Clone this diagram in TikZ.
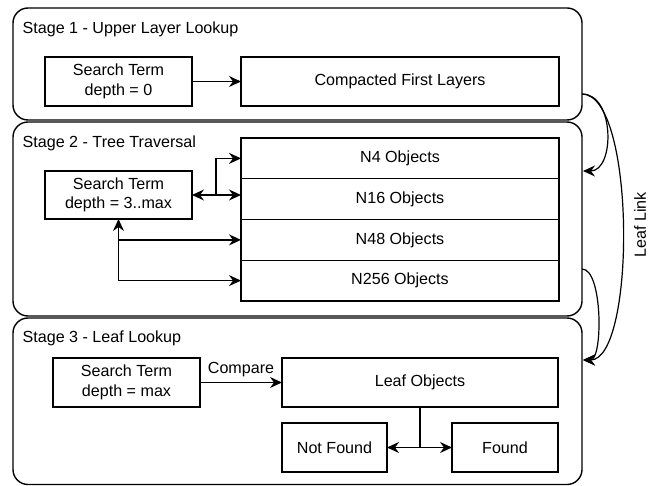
\documentclass[tikz,border=0pt]{standalone}
\usepackage{fontspec}
\setmainfont{Liberation Sans}
\usetikzlibrary{arrows.meta}
\begin{document}
\begin{tikzpicture}[x=1pt,y=-1pt,
  font=\fontsize{16.1}{19.5}\selectfont,
  stage/.style={draw, line width=1.4pt, rounded corners=15pt, inner sep=0pt, outer sep=0pt},
  box/.style={draw, line width=1.4pt, inner sep=0pt, outer sep=0pt, align=center},
  stagelabel/.style={anchor=west, inner sep=0pt},
  conn/.style={line width=1.4pt, -{Stealth[length=12pt,width=11pt,inset=4pt]}},
  conn2/.style={line width=1.4pt, {Stealth[length=12pt,width=11pt,inset=4pt]}-{Stealth[length=12pt,width=11pt,inset=4pt]}},
  curve/.style={line width=1.2pt, -{Stealth[length=12pt,width=11pt,inset=4pt]}}
]
\useasboundingbox (0,0) rectangle (658,486);

% stage containers
\node[stage, minimum width=569pt, minimum height=112pt] (s1) at (297.5,64) {};
\node[stage, minimum width=569pt, minimum height=194pt] (s2) at (297.5,219) {};
\node[stage, minimum width=569pt, minimum height=166.5pt] (s3) at (297.5,401.25) {};

\node[stagelabel] (t1) at (22.5,29) {Stage 1 - Upper Layer Lookup};
\node[stagelabel] (t2) at (22.5,143) {Stage 2 - Tree Traversal};
\node[stagelabel] (t3) at (22.5,338) {Stage 3 - Leaf Lookup};

% stage 1
\node[box, minimum width=147pt, minimum height=49pt] (st1) at (118.5,81.5) {Search Term\\depth = 0};
\node[box, minimum width=318pt, minimum height=49pt] (cfl) at (400,81.5) {Compacted First Layers};
\draw[conn] (st1.east) -- (cfl.west);

% stage 2
\node[box, minimum width=147pt, minimum height=48pt] (st2) at (118.5,195) {Search Term\\depth = 3..max};
\node[box, minimum width=318pt, minimum height=40.75pt] (n4) at (400,158.4) {N4 Objects};
\node[box, minimum width=318pt, minimum height=40.75pt] (n16) at (400,199.1) {N16 Objects};
\node[box, minimum width=318pt, minimum height=40.75pt] (n48) at (400,239.9) {N48 Objects};
\node[box, minimum width=318pt, minimum height=40.75pt] (n256) at (400,280.6) {N256 Objects};
\coordinate (j1) at (216,195);
\draw[conn2] (st2.east) -- (st2.east -| n16.west);
\draw[conn] (j1) |- (n4.west);
\draw[conn2] (st2.south) |- (n48.west);
\draw[conn] (st2.south) |- (n256.west);

% stage 3
\node[box, minimum width=147pt, minimum height=49pt] (st3) at (126.5,382.5) {Search Term\\depth = max};
\node[box, minimum width=276pt, minimum height=49pt] (leaf) at (420,382.5) {Leaf Objects};
\node[box, minimum width=105pt, minimum height=49pt] (nf) at (334.5,447.5) {Not Found};
\node[box, minimum width=106pt, minimum height=49pt] (fd) at (505,447.5) {Found};
\draw[conn] (st3.east) -- (leaf.west) node[midway, above=2pt] (cmp) {Compare};
\draw[conn] (leaf.south) |- (nf.east);
\draw[conn] (leaf.south) |- (fd.west);

% leaf links
\coordinate (a1) at (582,94);
\coordinate (a2) at (582,269);
\coordinate (b2) at (583,171);
\coordinate (b3) at (583,360);
\draw[curve] (a1) .. controls (615,94) and (615,171) .. (b2);
\draw[curve] (a1) .. controls (636,94) and (636,360) .. (b3);
\draw[curve] (a2) .. controls (603,269) and (603,360) .. (b3);
\node[rotate=90, inner sep=0pt] (ll) at (640,225) {Leaf Link};
\end{tikzpicture}
\end{document}
